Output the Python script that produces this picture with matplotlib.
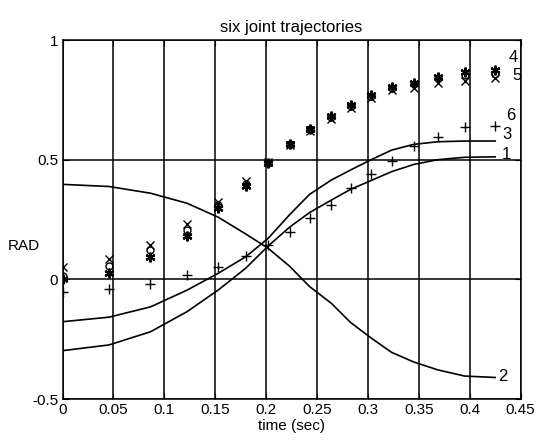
import matplotlib.pyplot as plt

# sample times (sec) of the trajectory points
t = [0.0, 0.0457, 0.0864, 0.1223, 0.1528, 0.1798, 0.2019, 0.2230, 0.2426,
     0.2640, 0.2829, 0.3031, 0.3232, 0.3448, 0.3684, 0.3949, 0.4249]

# joints drawn as lines
joint1 = [-0.298, -0.274, -0.219, -0.135, -0.045, 0.046, 0.139, 0.218, 0.279,
          0.331, 0.376, 0.413, 0.450, 0.480, 0.500, 0.510, 0.512]
joint2 = [0.397, 0.388, 0.360, 0.318, 0.260, 0.190, 0.130, 0.055, -0.030,
          -0.100, -0.180, -0.245, -0.305, -0.345, -0.378, -0.404, -0.410]
joint3 = [-0.177, -0.158, -0.115, -0.045, 0.025, 0.094, 0.171, 0.270, 0.355,
          0.415, 0.457, 0.500, 0.540, 0.564, 0.575, 0.578, 0.578]

# joints drawn as markers
joint4_x = [0.053, 0.084, 0.143, 0.230, 0.322, 0.412, 0.490, 0.560, 0.620,
            0.672, 0.715, 0.756, 0.790, 0.798, 0.819, 0.829, 0.840]
joint4_o = [0.015, 0.057, 0.122, 0.206, 0.310, 0.400, 0.488, 0.564, 0.627,
            0.680, 0.725, 0.765, 0.800, 0.815, 0.840, 0.852, 0.860]
joint5 = [0.000, 0.028, 0.094, 0.182, 0.297, 0.391, 0.487, 0.564, 0.628,
          0.684, 0.728, 0.770, 0.802, 0.819, 0.847, 0.865, 0.875]
joint6 = [-0.052, -0.040, -0.021, 0.018, 0.053, 0.099, 0.143, 0.199, 0.257,
          0.312, 0.380, 0.441, 0.495, 0.558, 0.596, 0.635, 0.642]

# curve labels placed at the right end
label_text = ['4', '5', '6', '3', '1', '2']
label_t = [0.4425, 0.4464, 0.4405, 0.4366, 0.4358, 0.4326]
label_y = [0.928, 0.850, 0.686, 0.606, 0.520, -0.404]

xticks = [0, 0.05, 0.1, 0.15, 0.2, 0.25, 0.3, 0.35, 0.4, 0.45]
xtick_labels = ['0', '0.05', '0.1', '0.15', '0.2', '0.25', '0.3', '0.35',
                '0.4', '0.45']
yticks = [-0.5, 0, 0.5, 1]
ytick_labels = ['-0.5', '0', '0.5', '1']

plt.rcParams['font.family'] = ['Liberation Sans', 'DejaVu Sans']
plt.rcParams['font.size'] = 11

fig = plt.figure(figsize=(5.39, 4.41), dpi=100)
ax = fig.add_axes([0.116, 0.0952, 0.85, 0.814])

ax.plot(t, joint1, color='black', lw=1.2)
ax.plot(t, joint2, color='black', lw=1.2)
ax.plot(t, joint3, color='black', lw=1.2)

ax.plot(t, joint6, linestyle='none', marker='+', color='black', ms=7.5, mew=1.0)
ax.plot(t, joint4_o, linestyle='none', marker='o', mfc='none', mec='black',
        ms=5, mew=1.0)
ax.plot(t, joint4_x, linestyle='none', marker='x', color='black', ms=6, mew=1.0)
ax.plot(t, joint5, linestyle='none', marker=(6, 2, 0), color='black', ms=7,
        mew=1.6)

for s, xx, yy in zip(label_text, label_t, label_y):
    ax.text(xx, yy, s, ha='center', va='center', fontsize=12)

ax.set_xlim(0, 0.45)
ax.set_ylim(-0.5, 1)
ax.set_xticks(xticks)
ax.set_xticklabels(xtick_labels)
ax.set_yticks(yticks)
ax.set_yticklabels(ytick_labels)
ax.tick_params(direction='in', length=4, top=True, right=True, pad=3)
ax.grid(True, color='black', lw=1.1, ls='-')
for sp in ax.spines.values():
    sp.set_linewidth(1.1)

ax.set_title('six joint trajectories', fontsize=12, pad=6)
ax.set_xlabel('time (sec)', labelpad=1)
ax.set_ylabel('RAD', rotation=0, ha='center', va='center')
ax.yaxis.set_label_coords(-0.084, 0.426)

fig.savefig('out.png', dpi=100)
